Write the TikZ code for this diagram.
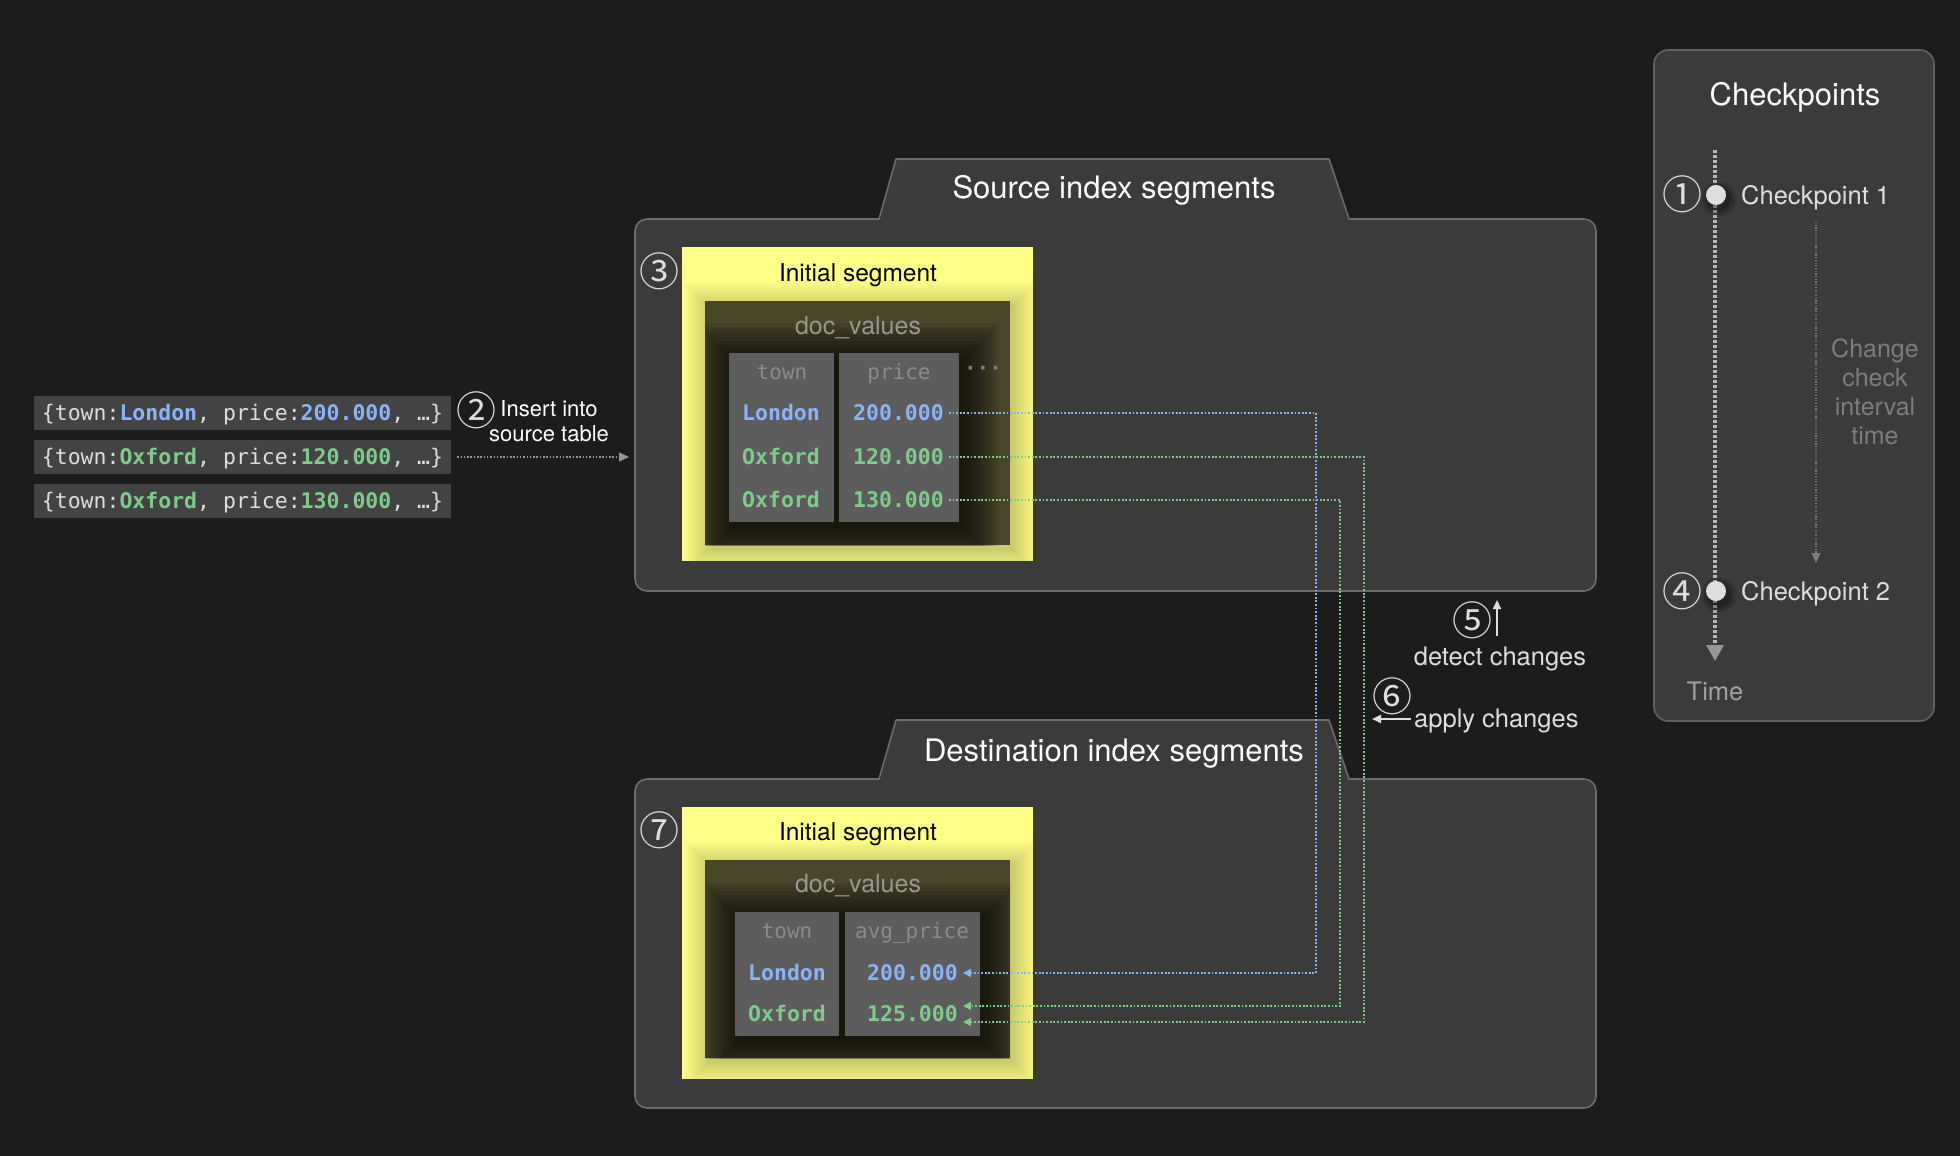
\documentclass[tikz,border=0pt]{standalone}
\usepackage{fontspec}
\setmainfont{TeX Gyre Heros}
\newfontfamily\monof{DejaVu Sans Mono}
\newfontfamily\circf{Noto Sans CJK SC}
\usetikzlibrary{arrows.meta}
\newcommand\fs[1]{\fontsize{#1}{#1}\selectfont}
\definecolor{bg}{RGB}{28,28,28}
\definecolor{panelfill}{RGB}{59,59,59}
\definecolor{panelline}{RGB}{108,108,108}
\definecolor{segyellow}{RGB}{255,255,136}
\definecolor{dvfill}{RGB}{74,70,42}
\definecolor{colfill}{RGB}{93,93,93}
\definecolor{recfill}{RGB}{67,67,67}
\definecolor{vblue}{RGB}{138,180,248}
\definecolor{vgreen}{RGB}{126,204,140}
\definecolor{lighttext}{RGB}{222,222,222}
\definecolor{hdrgrey}{RGB}{140,140,140}
\definecolor{dvtext}{RGB}{152,152,142}
\definecolor{midgrey}{RGB}{150,150,150}
\definecolor{intgrey}{RGB}{125,125,125}
\definecolor{tlgrey}{RGB}{185,185,185}
\begin{document}
\begin{tikzpicture}[x=1pt,y=-1pt,
  panel/.style={draw=panelline,fill=panelfill,line width=1.6pt,rounded corners=12pt,inner sep=0pt,outer sep=0pt},
  tabline/.style={draw=panelline,line width=1.6pt,line join=round},
  seg/.style={fill=segyellow,inner sep=0pt,outer sep=0pt},
  dvbox/.style={fill=dvfill,inner sep=0pt,outer sep=0pt},
  colbox/.style={fill=colfill,inner sep=0pt,outer sep=0pt},
  rec/.style={fill=recfill,minimum width=417pt,minimum height=34pt,inner sep=0pt,text=lighttext,font=\monof\fs{21.5},text height=15.7pt,text depth=0pt},
  ttl/.style={text=white,font=\fs{31},text height=22.3pt,text depth=0pt,inner sep=0pt},
  seglbl/.style={text=black,font=\fs{24.5},text height=17.6pt,text depth=0pt,inner sep=0pt},
  dvlbl/.style={text=dvtext,font=\fs{25},text height=18pt,text depth=0pt,inner sep=0pt},
  hdr/.style={text=hdrgrey,font=\monof\fs{21},text height=15.3pt,text depth=0pt,inner sep=0pt},
  val/.style={font=\monof\bfseries\fs{21.5},text height=15.7pt,text depth=0pt,inner xsep=5pt,inner ysep=0pt},
  lbl/.style={text=lighttext,font=\fs{25.5},text height=18.4pt,text depth=0pt,inner sep=0pt},
  circnum/.style={text=lighttext,font=\circf\fs{40},inner sep=0pt},
  con/.style={line width=1.6pt,dash pattern=on 1.8pt off 1.8pt,-{Triangle[length=8pt,width=8pt]}},
  whitearrow/.style={draw=lighttext,line width=2pt,-{Triangle[length=9pt,width=8pt]}},
  cpdot/.style={circle,fill=lighttext,minimum size=20pt,inner sep=0pt}
]
\useasboundingbox (0,0) rectangle (1960,1156);
\fill[bg] (0,0) rectangle (1960,1156);

% ---------------- input records
\node[rec] (r1) at (242.5,413) {\{town:\textbf{\color{vblue}London}, price:\textbf{\color{vblue}200.000}, …\}};
\node[rec] (r2) at (242.5,457) {\{town:\textbf{\color{vgreen}Oxford}, price:\textbf{\color{vgreen}120.000}, …\}};
\node[rec] (r3) at (242.5,501) {\{town:\textbf{\color{vgreen}Oxford}, price:\textbf{\color{vgreen}130.000}, …\}};
\node[circnum] (n2) at (476,410) {②};
\node[text=white,font=\fontsize{22}{25}\selectfont,align=center,inner sep=0pt] (ins) at (549,421) {Insert into\\source table};

% ---------------- source panel
\node[panel,minimum width=961pt,minimum height=372pt] (srcbody) at (1115.5,405) {};
\fill[panelfill] (879,222) -- (896,159) -- (1329,159) -- (1349,222) -- cycle;
\draw[tabline] (879,219) -- (896,159) -- (1329,159) -- (1349,219);
\node[ttl] (srctitle) at (1114,187) {Source index segments};

\draw[midgrey,line width=1.3pt,dash pattern=on 1.5pt off 1.8pt,-{Triangle[length=10pt,width=9pt]},shorten >=6pt] ([xshift=6pt]r2.east) -- (srcbody.west |- r2.east);

% source segment
\node[seg,minimum width=351pt,minimum height=314pt] (sseg) at (857.5,404) {};
\begin{scope}
  \clip (682,247) rectangle (1033,561);
  \foreach \i in {0,2,...,24}{\fill[black,fill opacity=0.016] (705-\i+3,301-\i+5) rectangle (1010+\i+3,545+\i+5);}
\end{scope}
\node[dvbox,minimum width=305pt,minimum height=244pt] (sdv) at (857.5,423) {};
\begin{scope}
  \clip (705,301) rectangle (1010,545);
  \foreach \i in {0,3,...,36}{\fill[black,fill opacity=0.07] (729-\i+4,353-\i+6) rectangle (959+\i+4,522+\i+6);}
\end{scope}
\node[circnum] (n3) at (659,271) {③};
\node[seglbl] (sseglbl) at (858,273) {Initial segment};
\node[dvlbl] (sdvlbl) at (858,325) {doc\_values};
\node[colbox,minimum width=105pt,minimum height=169pt] (stown) at (781.5,437.5) {};
\node[colbox,minimum width=120pt,minimum height=169pt] (sprice) at (899,437.5) {};
\node[hdr] (sth) at (782,372) {town};
\node[hdr] (sph) at (899,372) {price};
\node[hdr,font=\monof\bfseries\fs{21},text=hdrgrey!90!black] (sdots) at (983,368) {···};
\node[val,text=vblue] (st1) at (781,413) {London};
\node[val,text=vgreen] (st2) at (781,457) {Oxford};
\node[val,text=vgreen] (st3) at (781,500) {Oxford};
\node[val,text=vblue,anchor=east] (sv1) at (949,413) {200.000};
\node[val,text=vgreen,anchor=east] (sv2) at (949,457) {120.000};
\node[val,text=vgreen,anchor=east] (sv3) at (949,500) {130.000};

% ---------------- destination panel
\node[panel,minimum width=961pt,minimum height=329pt] (dstbody) at (1115.5,943.5) {};
\fill[panelfill] (879,782) -- (896,720) -- (1329,720) -- (1349,782) -- cycle;
\draw[tabline] (879,779) -- (896,720) -- (1329,720) -- (1349,779);
\node[ttl] (dsttitle) at (1114,750) {Destination index segments};

\node[seg,minimum width=351pt,minimum height=272pt] (dseg) at (857.5,943) {};
\begin{scope}
  \clip (682,807) rectangle (1033,1079);
  \foreach \i in {0,2,...,24}{\fill[black,fill opacity=0.016] (705-\i+3,860-\i+5) rectangle (1010+\i+3,1058+\i+5);}
\end{scope}
\node[dvbox,minimum width=305pt,minimum height=198pt] (ddv) at (857.5,959) {};
\begin{scope}
  \clip (705,860) rectangle (1010,1058);
  \foreach \i in {0,3,...,36}{\fill[black,fill opacity=0.07] (735-\i+4,912-\i+6) rectangle (980+\i+4,1036+\i+6);}
\end{scope}
\node[circnum] (n7) at (659,830) {⑦};
\node[seglbl] (dseglbl) at (858,832) {Initial segment};
\node[dvlbl] (ddvlbl) at (858,883) {doc\_values};
\node[colbox,minimum width=104pt,minimum height=124pt] (dtown) at (787,974) {};
\node[colbox,minimum width=135pt,minimum height=124pt] (dprice) at (912.5,974) {};
\node[hdr] (dth) at (787,931) {town};
\node[hdr] (dph) at (912,931) {avg\_price};
\node[val,text=vblue] (dt1) at (787,973) {London};
\node[val,text=vgreen] (dt2) at (787,1014) {Oxford};
\node[val,text=vblue,anchor=east] (dv1) at (963,973) {200.000};
\node[val,text=vgreen,anchor=east] (dv2) at (963,1014) {125.000};

% ---------------- connectors
\coordinate (xb) at (1316,0);
\coordinate (xg1) at (1364,0);
\coordinate (xg2) at (1340,0);
\coordinate (dv2lo) at ([yshift=-8pt]dv2.east);
\coordinate (dv2hi) at ([yshift=8pt]dv2.east);
\draw[con,vblue] (sv1.east) -| (xb |- dv1.east) -- (dv1.east);
\draw[con,vgreen] (sv2.east) -| (xg1 |- dv2lo) -- (dv2lo);
\draw[con,vgreen] (sv3.east) -| (xg2 |- dv2hi) -- (dv2hi);

% ---------------- detect / apply labels
\node[circnum] (n5) at (1472,620) {⑤};
\coordinate (a5s) at (1497,636);
\draw[whitearrow,shorten >=9pt] (a5s) -- (srcbody.south -| a5s);
\node[lbl] (detect) at (1500,656) {detect changes};
\node[circnum] (n6) at (1392,696) {⑥};
\node[lbl,anchor=west] (apply) at (1414,718) {apply changes};
\coordinate (a6e) at (1372,719);
\draw[whitearrow] ([xshift=-3pt]apply.west |- a6e) -- (a6e);

% ---------------- checkpoints panel
\node[panel,draw=panelline!90!black,minimum width=280pt,minimum height=671pt,rounded corners=14pt] (cpbox) at (1794,385.5) {};
\node[ttl] (cptitle) at (1795,94) {Checkpoints};
\coordinate (tltop) at (1715,150);
\coordinate (tlend) at (1715,661);
\draw[tlgrey,line width=3.6pt,dash pattern=on 3pt off 2pt,-{Triangle[length=16pt,width=17pt,color=midgrey]}] (tltop) -- (tlend);
\foreach \yy in {195,591}{
  \foreach \i in {1,...,8}{\fill[black,fill opacity=0.05] (1719,\yy+4) circle[radius=10+\i];}
}
\node[cpdot] (cp1) at (1716,195) {};
\node[cpdot] (cp2) at (1716,591) {};
\node[circnum] (n1) at (1682,194) {①};
\node[circnum] (n4) at (1682,591) {④};
\node[lbl,anchor=west] (cp1l) at (1741,195) {Checkpoint 1};
\node[lbl,anchor=west] (cp2l) at (1741,591) {Checkpoint 2};
\coordinate (ivs) at (1816,222);
\coordinate (ive) at (1816,563);
\draw[intgrey,line width=1.2pt,dash pattern=on 1.2pt off 1.5pt,-{Triangle[length=10pt,width=9pt]}] (ivs) -- (ive);
\node[text=intgrey,font=\fontsize{25}{29}\selectfont,align=center,inner sep=0pt] (intv) at (1875,392) {Change\\check\\interval\\time};
\node[lbl,text=midgrey!90!white] (timelbl) at (1715,691) {Time};
\end{tikzpicture}
\end{document}
